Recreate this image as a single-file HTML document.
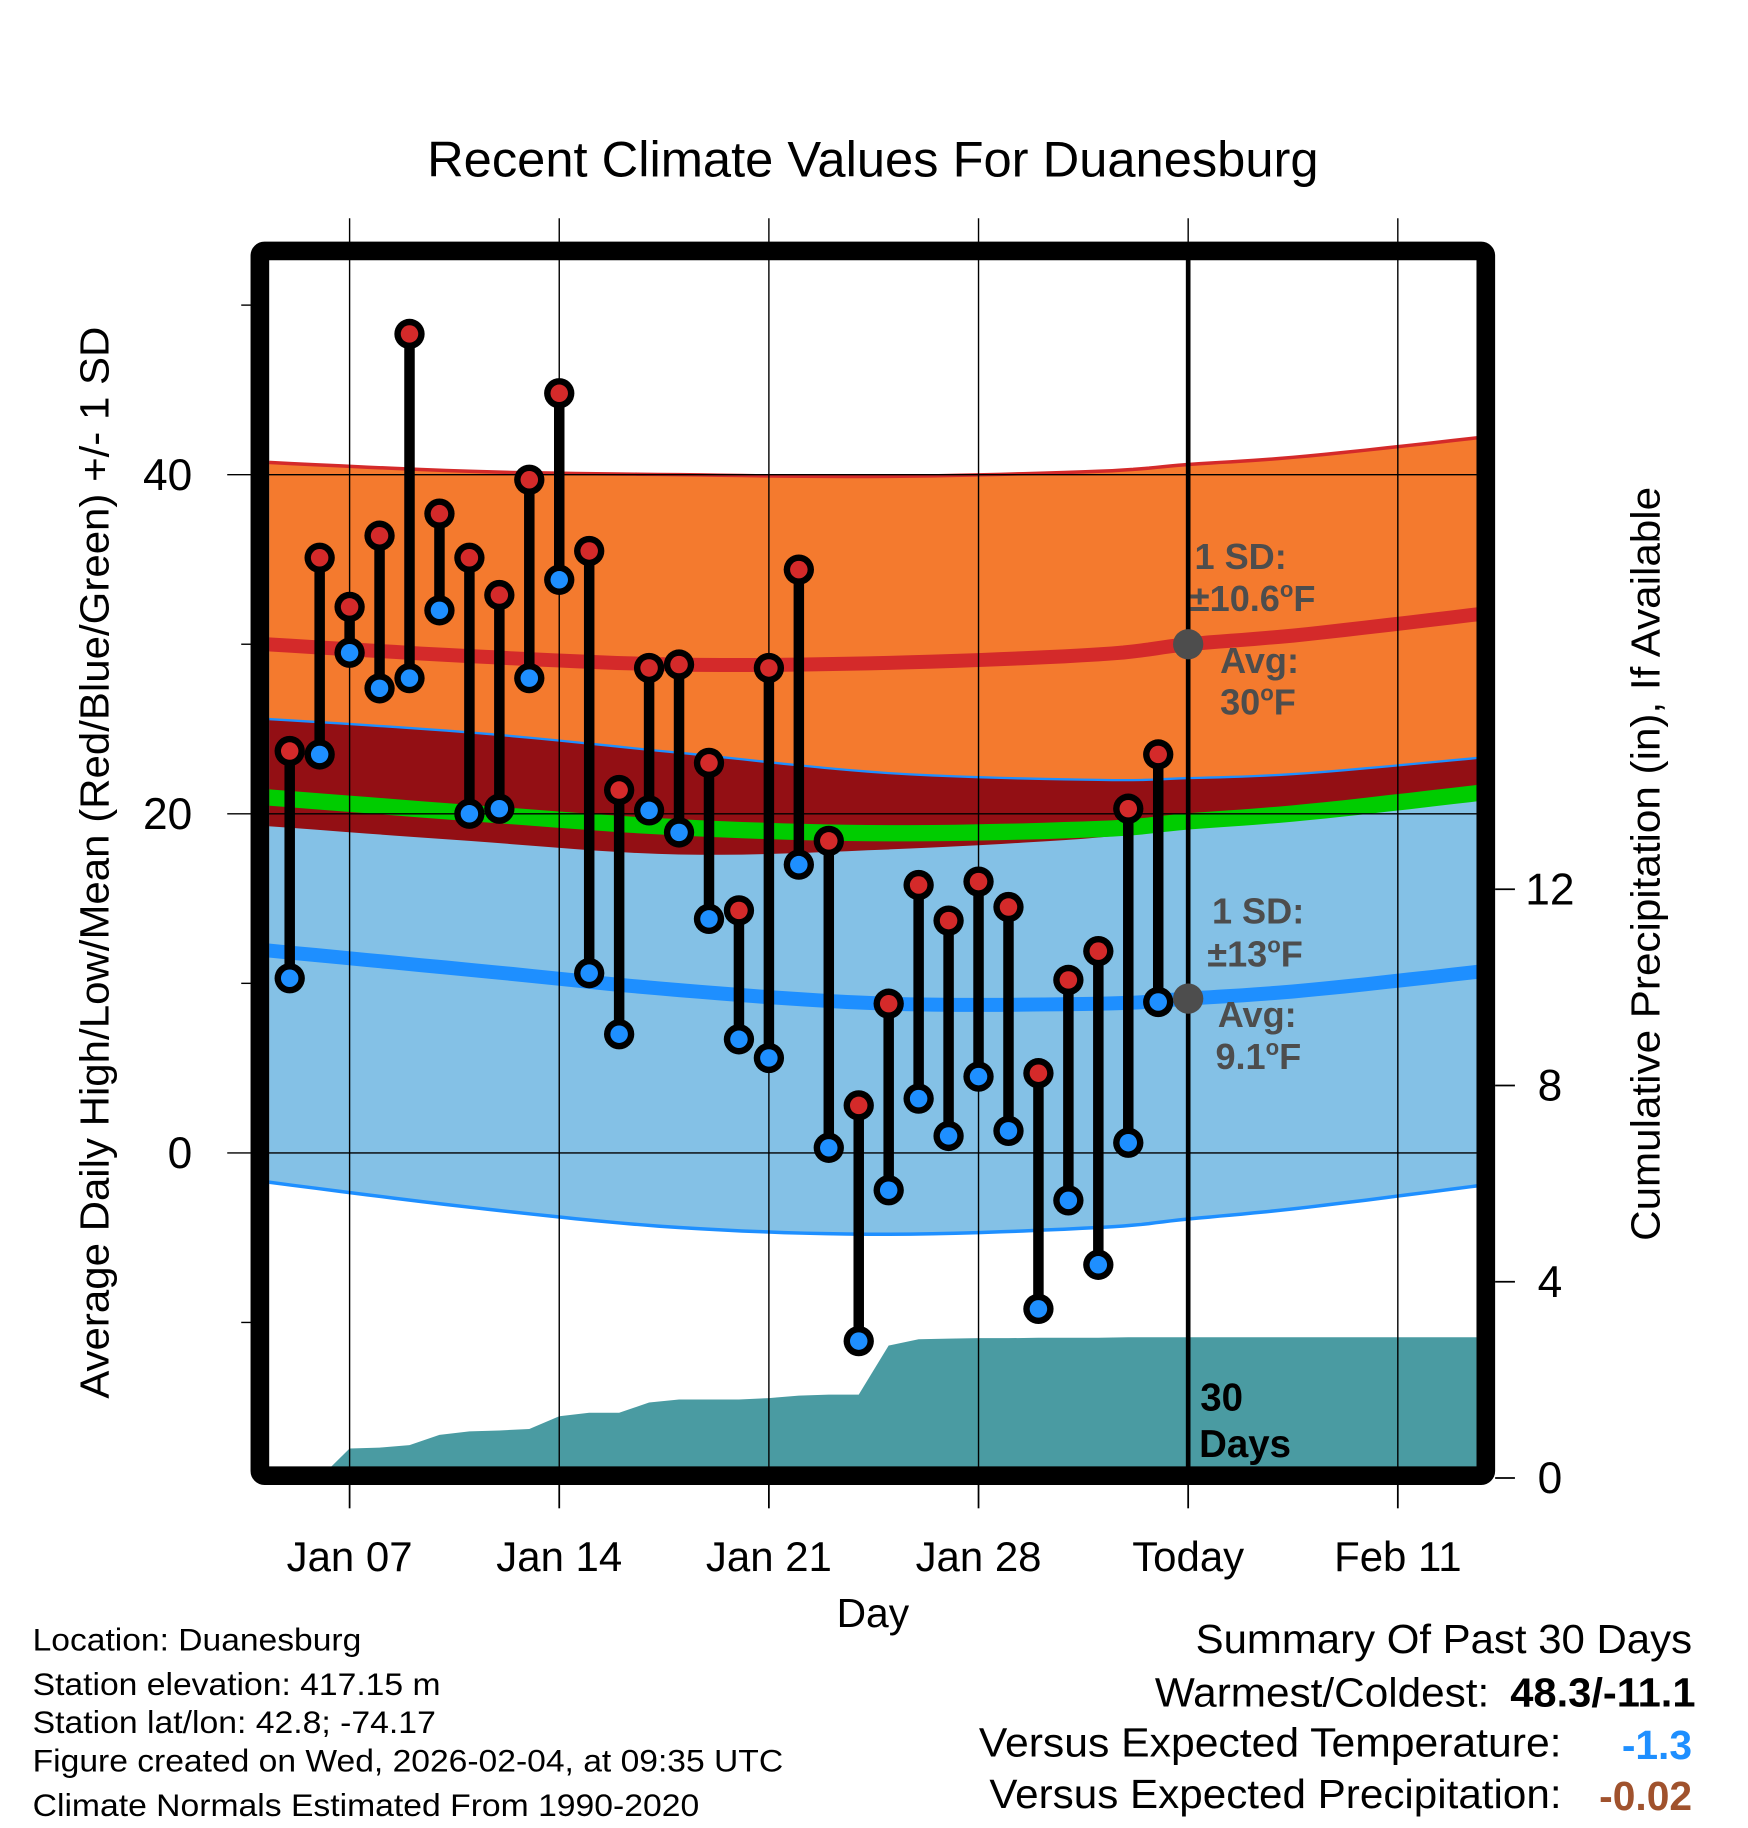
<!DOCTYPE html>
<html><head><meta charset="utf-8"><style>
html,body{margin:0;padding:0;background:#fff;}
svg{display:block;font-family:"Liberation Sans",sans-serif;}
</style></head><body>
<svg id="chart" width="1748" height="1828" viewBox="0 0 1500 1568" xmlns="http://www.w3.org/2000/svg">
<g id="layers"></g>
</svg>
<script>
// ---- data ----
const dayLabels = ["Jan 05","Jan 06","Jan 07","Jan 08","Jan 09","Jan 10","Jan 11","Jan 12","Jan 13","Jan 14","Jan 15","Jan 16","Jan 17","Jan 18","Jan 19","Jan 20","Jan 21","Jan 22","Jan 23","Jan 24","Jan 25","Jan 26","Jan 27","Jan 28","Jan 29","Jan 30","Jan 31","Feb 01","Feb 02","Feb 03"];
const highs = [23.7,35.1,32.2,36.4,48.3,37.7,35.1,32.9,39.7,44.8,35.5,21.4,28.6,28.8,23.0,14.3,28.6,34.4,18.4,2.8,8.8,15.8,13.7,16.0,14.5,4.7,10.2,11.9,20.3,23.5];
const lows = [10.3,23.5,29.5,27.4,28.0,32.0,20.0,20.3,28.0,33.8,10.6,7.0,20.2,18.9,13.8,6.7,5.6,17.0,0.3,-11.1,-2.2,3.2,1.0,4.5,1.3,-9.2,-2.8,-6.6,0.6,8.9];
const precipCum = [0,0,0.6,0.62,0.67,0.88,0.95,0.97,1.0,1.26,1.33,1.33,1.54,1.6,1.6,1.6,1.63,1.68,1.7,1.7,2.7,2.83,2.84,2.85,2.85,2.86,2.86,2.86,2.87,2.87];
const normDays = [-1.7,6,13,20,27,30,34,40.3];
const normHigh = [30.1,29.3,28.8,28.9,29.4,30.0,30.6,31.9];
const normLow = [12.1,10.8,9.6,8.8,8.8,9.1,9.6,10.8];
const highSD = [10.7,10.9,11.2,11.0,10.8,10.6,10.5,10.4];
const lowSD = [13.6,14.0,14.0,13.6,13.2,13.0,12.8,12.6];
const xTickDays = [2,9,16,23,30,37];
const xTickLabels = ["Jan 07","Jan 14","Jan 21","Jan 28","Today","Feb 11"];
const yTicks = [40,20,0];
const yMinor = [50,30,10,-10];
const pTicks = [0,4,8,12];

// ---- scales ----
const L=231,R=1267,T=222,B=1259;
const X = d => 248.6 + 25.7*d;
const Y = t => 989 - 14.55*t;
const P = p => 1268 - 42.1*p;
const NS="http://www.w3.org/2000/svg";
const root=document.getElementById('layers');
function mk(tag,attrs,parent){const e=document.createElementNS(NS,tag);for(const k in attrs)e.setAttribute(k,attrs[k]);(parent||root).appendChild(e);return e;}
function txt(s,attrs,parent){const e=mk('text',attrs,parent);e.textContent=s;return e;}
// smooth curve (catmull-rom sampled) through normals
function curve(vals){
  const p=normDays.map((d,i)=>[X(d),Y(vals[i])]);const out=[];
  for(let i=0;i<p.length-1;i++){
    const p0=p[Math.max(0,i-1)],p1=p[i],p2=p[i+1],p3=p[Math.min(p.length-1,i+2)];
    for(let s=0;s<10;s++){const t=s/10,t2=t*t,t3=t2*t;
      const f=(a,b,c,d)=>0.5*((2*b)+(-a+c)*t+(2*a-5*b+4*c-d)*t2+(-a+3*b-3*c+d)*t3);
      out.push(f(p0[0],p1[0],p2[0],p3[0]).toFixed(1)+','+f(p0[1],p1[1],p2[1],p3[1]).toFixed(1));}
  }
  out.push(p[p.length-1][0].toFixed(1)+','+p[p.length-1][1].toFixed(1));
  return out;
}
const hiUp=normHigh.map((v,i)=>v+highSD[i]), hiLo=normHigh.map((v,i)=>v-highSD[i]);
const loUp=normLow.map((v,i)=>v+lowSD[i]), loLo=normLow.map((v,i)=>v-lowSD[i]);
const mean=normHigh.map((v,i)=>(v+normLow[i])/2);
const rev=a=>a.slice().reverse();

const clip=mk('clipPath',{id:'pc'});mk('rect',{x:L,y:T,width:R-L,height:B-T},clip);
const g=mk('g',{'clip-path':'url(#pc)'});

let e;
e=mk('polygon',{points:curve(hiUp).concat(rev(curve(hiLo))).join(' '),fill:'#f47a2e'},g);

e=mk('polygon',{points:curve(loUp).concat(rev(curve(loLo))).join(' '),fill:'#84c1e6'},g);

e=mk('polygon',{points:curve(loUp).concat(rev(curve(hiLo))).join(' '),fill:'#930f14'},g);

e=mk('polyline',{points:curve(mean).join(' '),fill:'none',stroke:'#00cc00','stroke-width':14},g);

e=mk('polyline',{points:curve(hiUp).join(' '),fill:'none',stroke:'#d42a2a','stroke-width':3},g);

e=mk('polyline',{points:curve(loUp).join(' '),fill:'none',stroke:'#1e8fff','stroke-width':2},g);

e=mk('polyline',{points:curve(loLo).join(' '),fill:'none',stroke:'#1e8fff','stroke-width':3},g);

e=mk('polyline',{points:curve(normHigh).join(' '),fill:'none',stroke:'#d42a2a','stroke-width':12},g);

e=mk('polyline',{points:curve(normLow).join(' '),fill:'none',stroke:'#1e8fff','stroke-width':12},g);


// precip area
let pp=[L+','+P(0)];
precipCum.forEach((v,i)=>pp.push(X(i).toFixed(1)+','+P(v).toFixed(1)));
pp.push(R+','+P(precipCum[precipCum.length-1]).toFixed(1));pp.push(R+','+P(0));
e=mk('polygon',{points:pp.join(' '),fill:'#4a9ba2'},g);


// grid
xTickDays.forEach((d,i)=>{
  e=mk('line',{x1:X(d),x2:X(d),y1:187,y2:B,stroke:'#000','stroke-width':1.2});
  
  mk('line',{x1:X(d),x2:X(d),y1:1273,y2:1294,stroke:'#000','stroke-width':1.5});
  e=txt(xTickLabels[i],{x:X(d),y:1348,'font-size':36,'text-anchor':'middle'});
  
});
yTicks.forEach(t=>{
  e=mk('line',{x1:195,x2:R,y1:Y(t),y2:Y(t),stroke:'#000','stroke-width':1.2});
  
  e=txt(String(t),{x:165,y:Y(t)+13,'font-size':38,'text-anchor':'end'});
  
});
yMinor.forEach(t=>{mk('line',{x1:207,x2:216,y1:Y(t),y2:Y(t),stroke:'#000','stroke-width':1.2});});
pTicks.forEach(p=>{
  mk('line',{x1:1283,x2:1300,y1:P(p),y2:P(p),stroke:'#000','stroke-width':1.5});
  e=txt(String(p),{x:1330,y:P(p)+13,'font-size':38,'text-anchor':'middle'});
  
});

// today line
e=mk('line',{x1:X(30),x2:X(30),y1:T,y2:B,stroke:'#000','stroke-width':4});


// stems & points
highs.forEach((h,i)=>{
  e=mk('line',{x1:X(i),x2:X(i),y1:Y(h),y2:Y(lows[i]),stroke:'#000','stroke-width':9});
  
});
highs.forEach((h,i)=>{
  mk('circle',{cx:X(i),cy:Y(lows[i]),r:13,fill:'#000'});
  e=mk('circle',{cx:X(i),cy:Y(lows[i]),r:7.5,fill:'#1e8fff'});
  
  mk('circle',{cx:X(i),cy:Y(h),r:13,fill:'#000'});
  e=mk('circle',{cx:X(i),cy:Y(h),r:7.5,fill:'#d42a2a'});
  
});

// avg markers
mk('circle',{cx:X(30),cy:Y(normHigh[5]),r:13,fill:'#4d4d4d'});
mk('circle',{cx:X(30),cy:Y(normLow[5]),r:13,fill:'#4d4d4d'});
</script>
<script>
(function(){
const NS="http://www.w3.org/2000/svg";const root=document.getElementById('layers');
function t(s,a,name){const e=document.createElementNS(NS,'text');for(const k in a)e.setAttribute(k,a[k]);e.innerHTML=s;root.appendChild(e);


return e;}
const gs='font-weight:bold;fill:#4d4d4d;font-size:31px';
const sup='<tspan dy="-12" font-size="19">o</tspan><tspan dy="12">F</tspan>';
t('1 SD:',{x:1025,y:488,style:gs},'high-sd-label');
t('±10.6'+sup,{x:1021,y:524,style:gs},'high-sd-value');
t('Avg:',{x:1047,y:577,style:gs},'high-avg-label');
t('30'+sup,{x:1047,y:613,style:gs},'high-avg-value');
t('1 SD:',{x:1040,y:792,style:gs},'low-sd-label');
t('±13'+sup,{x:1036,y:829,style:gs},'low-sd-value');
t('Avg:',{x:1045,y:881,style:gs},'low-avg-label');
t('9.1'+sup,{x:1043,y:917,style:gs},'low-avg-value');
t('30',{x:1030,y:1210,style:'font-weight:bold;font-size:33px'},'days-count');
t('Days',{x:1029,y:1250,style:'font-weight:bold;font-size:33px'},'days-label');
t('Recent Climate Values For Duanesburg',{x:749,y:151,'font-size':43,'text-anchor':'middle',textLength:765,lengthAdjust:'spacingAndGlyphs'},'chart-title');
t('Average Daily High/Low/Mean (Red/Blue/Green) +/- 1 SD',{x:0,y:0,'font-size':35,'text-anchor':'middle',textLength:920,lengthAdjust:'spacingAndGlyphs',transform:'translate(93,740) rotate(-90)'},'y-axis-title');
t('Cumulative Precipitation (in), If Available',{x:0,y:0,'font-size':35,'text-anchor':'middle',textLength:647,lengthAdjust:'spacingAndGlyphs',transform:'translate(1424,741) rotate(-90)'},'y2-axis-title');
t('Day',{x:749,y:1396,'font-size':35,'text-anchor':'middle'},'x-axis-title');
const info=[['Location: Duanesburg',1416,282],['Station elevation: 417.15 m',1454,350],['Station lat/lon: 42.8; -74.17',1487,346],['Figure created on Wed, 2026-02-04, at 09:35 UTC',1520,644],['Climate Normals Estimated From 1990-2020',1558,572]];
info.forEach(r=>t(r[0],{x:28,y:r[1],'font-size':27,textLength:r[2],lengthAdjust:'spacingAndGlyphs'},'station-info'));
t('Summary Of Past 30 Days',{x:1452,y:1418,'font-size':35,'text-anchor':'end',textLength:426,lengthAdjust:'spacingAndGlyphs'},'summary-title');
t('Warmest/Coldest:',{x:1278,y:1464,'font-size':35,'text-anchor':'end',textLength:287,lengthAdjust:'spacingAndGlyphs'},'warmest-coldest-label');
t('48.3/-11.1',{x:1455,y:1464,'font-size':35,'font-weight':'bold','text-anchor':'end',textLength:159,lengthAdjust:'spacingAndGlyphs'},'warmest-coldest-value');
t('Versus Expected Temperature:',{x:1340,y:1507,'font-size':35,'text-anchor':'end',textLength:500,lengthAdjust:'spacingAndGlyphs'},'temp-anomaly-label');
t('-1.3',{x:1452,y:1509,'font-size':35,'font-weight':'bold',fill:'#1e8fff','text-anchor':'end'},'temp-anomaly-value');
t('Versus Expected Precipitation:',{x:1340,y:1551,'font-size':35,'text-anchor':'end',textLength:491,lengthAdjust:'spacingAndGlyphs'},'precip-anomaly-label');
t('-0.02',{x:1452,y:1553,'font-size':35,'font-weight':'bold',fill:'#a0522d','text-anchor':'end'},'precip-anomaly-value');
const f=document.createElementNS(NS,'rect');
f.setAttribute('x',223);f.setAttribute('y',215);f.setAttribute('width',1052);f.setAttribute('height',1051);
f.setAttribute('rx',4);f.setAttribute('fill','none');f.setAttribute('stroke','#000');f.setAttribute('stroke-width',16);


root.appendChild(f);
})();
</script>
</body></html>
